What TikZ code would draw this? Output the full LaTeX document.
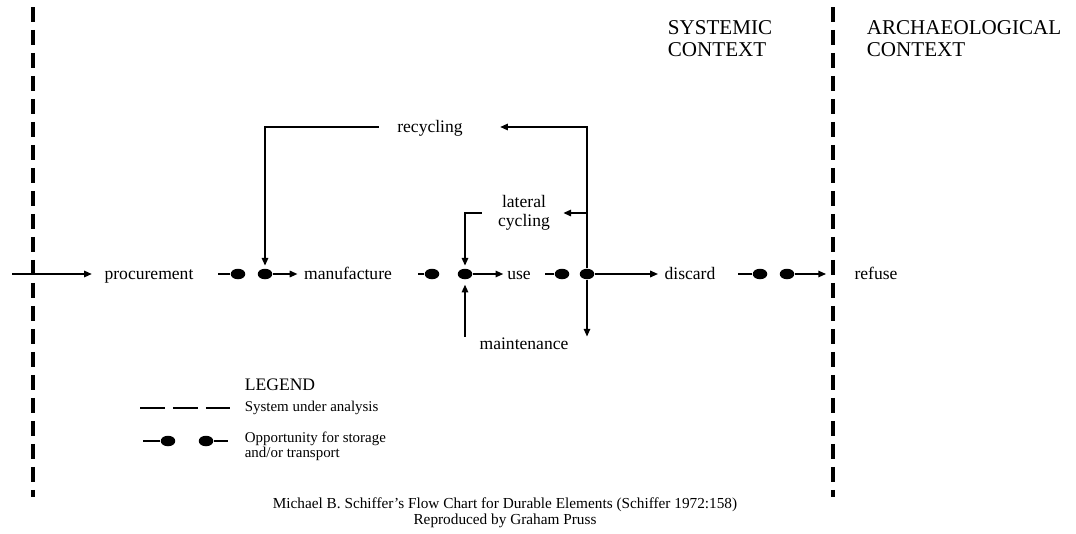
\documentclass[tikz,border=0pt]{standalone}
\usepackage{fontspec}
\setmainfont{Liberation Serif}
\usetikzlibrary{arrows.meta,shapes.geometric}

\begin{document}
\begin{tikzpicture}[x=0.02cm,y=-0.02cm,
    stage/.style={inner sep=2pt, text height=1.6ex, text depth=0.25ex, font=\fontsize{10}{8}\selectfont},
    flow/.style={line width=1.2pt},
    arrow/.style={flow, -{Triangle[length=4.5pt,width=3.6pt]}, shorten >=1.5pt},
    dot/.style={ellipse, fill, inner sep=0pt, minimum width=0.29cm, minimum height=0.21cm},
    boundary/.style={line width=1.8pt, dash pattern=on 0.3cm off 0.16cm},
    heading/.style={anchor=west, align=left, inner sep=2pt, font=\fontsize{12}{12.5}\selectfont},
    legendtext/.style={anchor=west, align=left, inner sep=2pt, font=\fontsize{8.5}{7.5}\selectfont}]

    \useasboundingbox (0,0) rectangle (1076,534);

    % Draw the system boundaries
    \draw[boundary] (33,7) -- (33,497);
    \draw[boundary] (833,7) -- (833,497);

    % Context headings
    \node[heading] (systemic) at (664,39) {SYSTEMIC\\CONTEXT};
    \node[heading] (archaeological) at (863,39) {ARCHAEOLOGICAL\\CONTEXT};

    % Stages of the flow
    \node[stage] (procurement) at (149,274) {procurement};
    \node[stage] (manufacture) at (348,274) {manufacture};
    \node[stage] (use) at (519,274) {use};
    \node[stage] (discard) at (690,274) {discard};
    \node[stage] (refuse) at (876,274) {refuse};
    \node[stage] (recycling) at (430,127) {recycling};
    \node[stage] (maintenance) at (524,344) {maintenance};
    \node[align=center, inner sep=2pt, font=\fontsize{10}{10.5}\selectfont] (lateral) at (524,213) {lateral\\cycling};

    % Storage and transport points
    \foreach \n/\x in {d1/238,d2/265,d3/432,d4/465,d5/562,d6/587,d7/760,d8/787}
        \node[dot] (\n) at (\x,274) {};
    \foreach \n/\len in {d1/20,d3/14,d5/17,d7/22}
        \draw[flow] (\n) -- ++(-\len,0);

    % Main flow
    \coordinate (start) at (12,274);
    \draw[arrow, shorten >=5pt] (start) -- (procurement);
    \draw[arrow] (d2) -- (manufacture);
    \draw[arrow, shorten >=0pt] (d4) -- (use);
    \draw[arrow] (d6) -- (discard);
    \draw[arrow, shorten >=0.49cm] (d8) -- (refuse);

    % Cycling loops
    \coordinate (branch) at (d6 |- lateral);
    \coordinate (mtop) at ([yshift=-0.08cm]maintenance.north);
    \draw[arrow, shorten >=0.67cm] (d6) |- (recycling);
    \draw[arrow, shorten <=0.29cm] (recycling) -| (d2);
    \draw[arrow, shorten >=5.4pt] (branch) -- (lateral);
    \draw[arrow, shorten <=0.25cm] (lateral) -| (d4);
    \draw[arrow, shorten >=0pt] (d6) -- (d6 |- mtop);
    \draw[arrow, shorten >=2.8pt] (mtop -| d4) -- (d4);

    % Legend
    \node[anchor=west, inner sep=2pt, font=\fontsize{10}{12}\selectfont] (legend) at (241,385) {LEGEND};
    \node[legendtext] (system) at (241,408) {System under analysis};
    \node[legendtext] (storage) at (241,446) {Opportunity for storage\\and/or transport};
    \draw[flow, dash pattern=on 0.5cm off 0.16cm] (140,408) -- (230,408);
    \node[dot] (l1) at (168,441) {};
    \node[dot] (l2) at (206,441) {};
    \draw[flow] (l1) -- ++(-25,0);
    \draw[flow] (l2) -- ++(22,0);

    % Caption
    \node[align=center, inner sep=2pt, font=\fontsize{8.7}{7.5}\selectfont] (caption) at (505,513)
        {Michael B. Schiffer's Flow Chart for Durable Elements (Schiffer 1972:158)\\Reproduced by Graham Pruss};

\end{tikzpicture}
\end{document}
